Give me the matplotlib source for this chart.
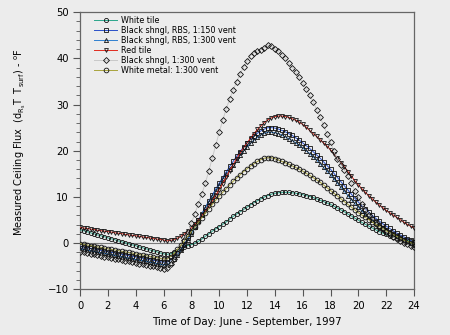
import numpy as np
import matplotlib
matplotlib.use('Agg')
import matplotlib.pyplot as plt

plt.rcParams['font.family'] = ['DejaVu Sans']
plt.rcParams['mathtext.default'] = 'regular'

# time of day, 15 minute averages
hours = np.arange(0, 24.01, 0.25)

# ceiling flux per roof, 4 readings per hour (h, h+15, h+30, h+45), last one is 24:00
white_tile = [2.9, 2.7, 2.5, 2.25, 2.05, 1.8, 1.6, 1.4, 1.15, 0.95, 0.75, 0.5,
              0.3, 0.1, -0.15, -0.35, -0.55, -0.8, -1.0, -1.2, -1.45, -1.65, -1.85, -2.1,
              -2.3, -2.4, -2.3, -2.0, -1.6, -1.2, -0.8, -0.5, -0.3, 0.0, 0.4, 0.9,
              1.5, 2.0, 2.6, 3.1, 3.6, 4.1, 4.6, 5.2, 5.8, 6.3, 6.8, 7.3,
              7.8, 8.3, 8.8, 9.2, 9.6, 10.0, 10.3, 10.6, 10.8, 10.9, 11.0, 11.0,
              11.0, 10.9, 10.8, 10.7, 10.5, 10.3, 10.1, 9.9, 9.6, 9.3, 9.0, 8.7,
              8.4, 8.0, 7.6, 7.2, 6.8, 6.3, 5.9, 5.4, 5.0, 4.5, 4.1, 3.7,
              3.3, 2.9, 2.5, 2.2, 1.9, 1.6, 1.4, 1.2, 1.0, 0.8, 0.6, 0.5,
              0.3]
rbs_150 = [-0.7, -0.85, -1.0, -1.1, -1.25, -1.4, -1.55, -1.7, -1.85, -2.0, -2.1, -2.25,
           -2.4, -2.55, -2.7, -2.85, -3.0, -3.1, -3.25, -3.4, -3.55, -3.7, -3.85, -4.0,
           -4.1, -4.1, -3.6, -2.9, -2.1, -1.1, -0.1, 1.1, 2.4, 3.7, 5.0, 6.4,
           7.8, 9.1, 10.4, 11.7, 13.0, 14.2, 15.4, 16.6, 17.7, 18.8, 19.8, 20.8,
           21.7, 22.5, 23.2, 23.8, 24.3, 24.7, 25.0, 25.0, 24.9, 24.7, 24.4, 24.1,
           23.7, 23.3, 22.8, 22.3, 21.7, 21.1, 20.5, 19.8, 19.1, 18.4, 17.6, 16.8,
           16.0, 15.1, 14.2, 13.3, 12.4, 11.5, 10.6, 9.7, 8.9, 8.1, 7.4, 6.7,
           6.0, 5.4, 4.8, 4.2, 3.7, 3.2, 2.7, 2.2, 1.8, 1.4, 1.0, 0.6,
           0.2]
rbs_300 = [-1.2, -1.35, -1.5, -1.65, -1.8, -1.95, -2.1, -2.2, -2.35, -2.5, -2.65, -2.8,
           -2.95, -3.1, -3.25, -3.4, -3.55, -3.65, -3.8, -3.95, -4.1, -4.25, -4.4, -4.55,
           -4.7, -4.7, -4.2, -3.4, -2.5, -1.5, -0.4, 0.8, 2.1, 3.4, 4.8, 6.2,
           7.6, 8.9, 10.2, 11.4, 12.6, 13.8, 14.9, 16.0, 17.0, 18.0, 19.0, 19.9,
           20.8, 21.6, 22.3, 22.9, 23.4, 23.8, 24.0, 24.0, 23.9, 23.7, 23.4, 23.0,
           22.6, 22.2, 21.7, 21.2, 20.6, 20.0, 19.4, 18.7, 18.0, 17.2, 16.4, 15.6,
           14.8, 13.9, 13.0, 12.1, 11.2, 10.3, 9.4, 8.6, 7.8, 7.0, 6.3, 5.6,
           5.0, 4.4, 3.8, 3.3, 2.8, 2.3, 1.9, 1.5, 1.1, 0.7, 0.3, 0.0,
           -0.4]
red_tile = [3.4, 3.3, 3.2, 3.05, 2.95, 2.8, 2.7, 2.6, 2.5, 2.4, 2.25, 2.15,
            2.05, 1.9, 1.8, 1.7, 1.6, 1.5, 1.35, 1.25, 1.15, 1.0, 0.9, 0.8,
            0.7, 0.5, 0.6, 0.8, 1.1, 1.5, 2.0, 2.6, 3.3, 4.1, 5.0, 6.0,
            7.0, 8.0, 9.1, 10.3, 11.6, 12.9, 14.3, 15.7, 17.0, 18.3, 19.5, 20.6,
            21.7, 22.7, 23.7, 24.6, 25.4, 26.1, 26.7, 27.1, 27.4, 27.5, 27.5, 27.4,
            27.2, 26.9, 26.6, 26.2, 25.7, 25.1, 24.4, 23.7, 23.1, 22.4, 21.7, 21.0,
            20.2, 19.3, 18.4, 17.4, 16.5, 15.5, 14.5, 13.5, 12.6, 11.8, 11.0, 10.3,
            9.6, 8.9, 8.3, 7.7, 7.1, 6.6, 6.1, 5.6, 5.1, 4.6, 4.1, 3.7,
            3.3]
black_300 = [-1.8, -1.95, -2.1, -2.25, -2.4, -2.6, -2.75, -2.9, -3.05, -3.2, -3.35, -3.5,
             -3.65, -3.8, -3.95, -4.1, -4.25, -4.4, -4.55, -4.7, -4.85, -5.0, -5.15, -5.35,
             -5.5, -5.3, -4.5, -3.4, -2.2, -0.9, 0.6, 2.4, 4.4, 6.4, 8.5, 10.6,
             13.0, 15.6, 18.4, 21.2, 24.0, 26.6, 29.0, 31.2, 33.1, 34.9, 36.6, 38.1,
             39.4, 40.6, 41.2, 41.6, 41.9, 42.3, 42.9, 42.6, 42.0, 41.5, 40.8, 40.0,
             38.9, 38.0, 37.1, 35.9, 34.7, 33.4, 32.1, 30.6, 28.9, 27.3, 25.5, 23.6,
             21.8, 19.9, 18.3, 17.0, 15.8, 14.5, 13.0, 11.4, 9.9, 8.5, 7.2, 6.2,
             5.3, 4.5, 3.8, 3.1, 2.5, 1.9, 1.4, 0.9, 0.5, 0.1, -0.2, -0.6,
             -0.9]
white_metal = [-0.1, -0.25, -0.4, -0.5, -0.65, -0.8, -0.9, -1.05, -1.2, -1.35, -1.45, -1.6,
               -1.75, -1.9, -2.0, -2.15, -2.3, -2.45, -2.55, -2.7, -2.85, -3.0, -3.1, -3.25,
               -3.4, -3.4, -2.9, -2.2, -1.3, -0.4, 0.5, 1.5, 2.5, 3.5, 4.5, 5.5,
               6.5, 7.5, 8.4, 9.3, 10.2, 11.0, 11.8, 12.6, 13.4, 14.1, 14.8, 15.5,
               16.1, 16.7, 17.2, 17.7, 18.1, 18.4, 18.5, 18.5, 18.3, 18.0, 17.7, 17.4,
               17.1, 16.7, 16.4, 16.0, 15.6, 15.1, 14.7, 14.2, 13.7, 13.2, 12.6, 12.0,
               11.4, 10.8, 10.2, 9.6, 9.0, 8.4, 7.8, 7.2, 6.6, 6.1, 5.6, 5.1,
               4.6, 4.1, 3.6, 3.2, 2.7, 2.3, 1.9, 1.5, 1.1, 0.7, 0.4, 0.1,
               -0.2]

labels = ['White tile', 'Black shngl, RBS, 1:150 vent', 'Black shngl, RBS, 1:300 vent',
          'Red tile', 'Black shngl, 1:300 vent', 'White metal: 1:300 vent']
series = [white_tile, rbs_150, rbs_300, red_tile, black_300, white_metal]
colors = ['#2aa58a', '#2950c8', '#2f7fd0', '#e02a1e', '#c8c8c8', '#a8a33c']
markers = ['o', 's', '^', 'v', 'D', 'o']
sizes = [3.0, 3.4, 3.0, 2.8, 3.0, 3.4]

bg = '#ececec'
fig = plt.figure(figsize=(4.5, 3.35), dpi=100, facecolor=bg)
ax = fig.add_axes([0.178, 0.136, 0.742, 0.828], facecolor=bg)

ax.axhline(0, color='#7a7a7a', lw=0.8, zorder=1)

for vals, lab, c, m, s in zip(series, labels, colors, markers, sizes):
    ax.plot(hours, vals, color=c, lw=0.7, marker=m, ms=s, mfc='none',
            mec='#111111', mew=0.6, label=lab, zorder=3)

ax.set_xlim(0, 24)
ax.set_ylim(-10, 50)
ax.set_xticks(np.arange(0, 25, 2))
ax.set_yticks(np.arange(-10, 51, 10))
ax.set_yticks(np.arange(-10, 51, 2), minor=True)
ax.tick_params(axis='both', which='major', direction='out', length=5, width=0.8,
               color='#555555', labelsize=7.2, pad=3)
ax.tick_params(axis='y', which='minor', direction='out', length=3, width=0.6,
               color='#555555')
for sp in ax.spines.values():
    sp.set_color('#666666')
    sp.set_linewidth(0.9)

ax.set_xlabel('Time of Day: June - September, 1997', fontsize=7.4, labelpad=5)
ax.set_ylabel(r'Measured Ceiling Flux  $(d_{R_s}T\;\;T_{surf})$ - $^o$F', fontsize=7.0)
ax.yaxis.set_label_coords(-0.156, 0.53)

leg = ax.legend(loc='upper left', bbox_to_anchor=(0.02, 1.012), frameon=False,
                fontsize=5.8, labelspacing=0.12, handlelength=2.9, handletextpad=0.45,
                borderaxespad=0.5)

fig.savefig('out.png', dpi=100, facecolor=bg)
